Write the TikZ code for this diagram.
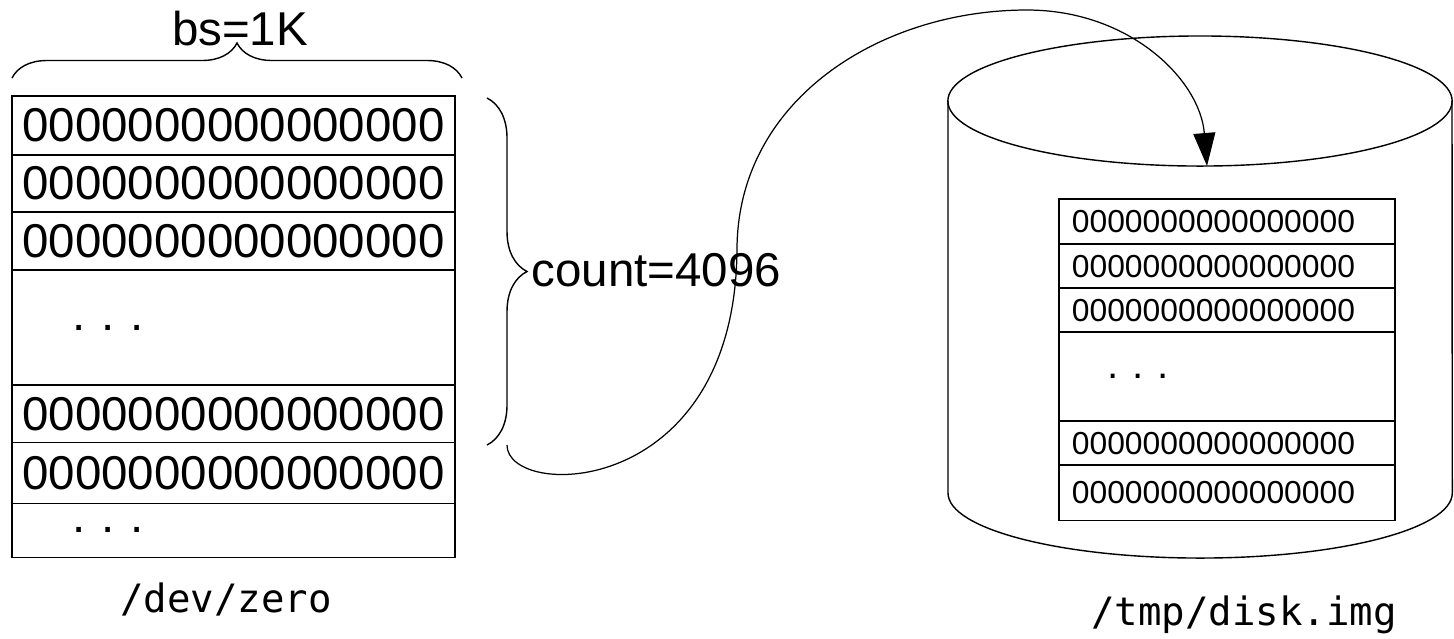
\documentclass[tikz,border=0pt]{standalone}
\usepackage{fontspec}
\setmainfont{Liberation Sans}
\setmonofont{DejaVu Sans Mono}
\usetikzlibrary{positioning,arrows.meta,decorations.pathreplacing}

\newcommand{\lzeros}{\resizebox{4.22cm}{!}{0000000000000000}}
\newcommand{\rzeros}{\resizebox{2.83cm}{!}{0000000000000000}}

\begin{document}
\begin{tikzpicture}[
    x=0.01cm, y=-0.01cm,
    line width=0.4pt,
    lrow/.style={rectangle, draw, outer sep=0pt, inner xsep=0.105cm, inner ysep=0pt, text width=4.22cm, align=left, minimum height=#1},
    rrow/.style={rectangle, draw, outer sep=0pt, inner xsep=0.13cm, inner ysep=0pt, text width=3.1cm, align=left, minimum height=#1},
    curly/.style={decorate, decoration={brace, amplitude=#1}},
    label/.style={font=\fontsize{13.5}{16}\selectfont, inner sep=0pt},
    path/.style={font=\fontsize{11.1}{13}\ttfamily},
    arrow/.style={-{Triangle[length=0.33cm, width=0.22cm]}, line width=0.35pt},
]
\useasboundingbox (0,0) rectangle (1454,638);

% ====== /dev/zero ======
\node[lrow=0.59cm, anchor=north] (lz1) at (233.5,96) {\lzeros};
\node[lrow=0.57cm, below=0pt of lz1] (lz2) {\lzeros};
\node[lrow=0.58cm, below=0pt of lz2] (lz3) {\lzeros};
\node[lrow=1.15cm, below=0pt of lz3, font=\fontsize{13.5}{16}\selectfont] (lz4) {\hspace*{0.5cm}.\ .\ .};
\node[lrow=0.57cm, below=0pt of lz4] (lz5) {\lzeros};
\node[lrow=0.61cm, below=0pt of lz5] (lz6) {\lzeros};
\node[lrow=0.54cm, below=0pt of lz6, font=\fontsize{13.5}{16}\selectfont] (lz7) {\hspace*{0.5cm}.\ .\ .};

\node[path] (zero) at (226,599) {/dev/zero};

% ====== Braces ======
\draw[curly=0.35cm] (12,78) -- (462,78);
\node[label] (bs) at (240,29) {bs=1K};

\draw[curly=0.4cm] (487,98) -- (487,445);
\node[label, anchor=west] (count) at (531,270) {count=4096};

% ====== Disk image ======
\draw (948,101) -- (948,493) arc[start angle=180, end angle=360, x radius=2.52cm, y radius=0.65cm] -- (1452,101);
\draw (1200,101) ellipse [x radius=2.52cm, y radius=0.65cm];

\node[rrow=0.45cm, anchor=north] (rz1) at (1227,199) {\rzeros};
\node[rrow=0.44cm, below=0pt of rz1] (rz2) {\rzeros};
\node[rrow=0.44cm, below=0pt of rz2] (rz3) {\rzeros};
\node[rrow=0.89cm, below=0pt of rz3, font=\fontsize{11.5}{13}\selectfont] (rz4) {\hspace*{0.36cm}.\ .\ .};
\node[rrow=0.44cm, below=0pt of rz4] (rz5) {\rzeros};
\node[rrow=0.55cm, below=0pt of rz5] (rz6) {\rzeros};

\node[path] (img) at (1244,615) {/tmp/disk.img};

% ====== Copy ======
\coordinate (cnt-end) at (507,445);
\coordinate (lid-front) at (1207,166);
\draw[arrow] (cnt-end) .. controls (507,500) and (735,500) .. (737,250)
    .. controls (737,100) and (880,10) .. (1027,10)
    .. controls (1130,10) and (1200,80) .. (lid-front);

\end{tikzpicture}
\end{document}
